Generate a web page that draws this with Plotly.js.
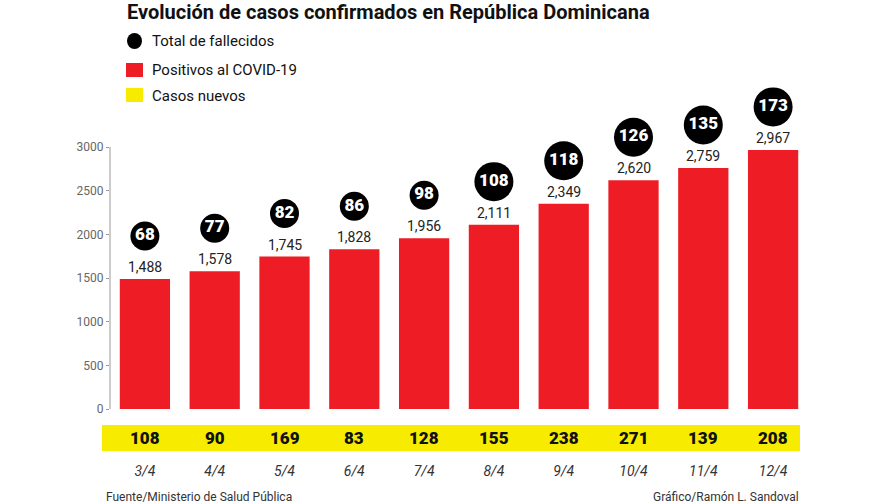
<!DOCTYPE html>
<html>
<head>
<meta charset="utf-8">
<script src="https://cdn.plot.ly/plotly-3.0.1.min.js"></script>
<style>html,body{margin:0;padding:0;background:#fff;}#chart{width:896px;height:504px;}</style>
</head>
<body>
<div id="chart"></div>
<script>
const fechas = ["3/4","4/4","5/4","6/4","7/4","8/4","9/4","10/4","11/4","12/4"];
const positivos = [1488,1578,1745,1828,1956,2111,2349,2620,2759,2967];
const fallecidos = [68,77,82,86,98,108,118,126,135,173];
const casosNuevos = [108,90,169,83,128,155,238,271,139,208];
const yTicks = [0,500,1000,1500,2000,2500,3000];

const W = 896, H = 504;
const L = 110, R = 808, B = 409;
const axisTopPx = 147;          // pixel of 3000
const axisMax = 3000;
const dataPerPx = axisMax / (B - axisTopPx);
const T = 80;                    // plot top pixel (extended so circles are inside)
const yMax = (B - T) * dataPerPx;
const px = x => (x - L) / (R - L);
const py = y => (B - y) / (B - T);

const FONT = "Roboto, 'Open Sans', sans-serif";
const red = "#ee1c24", yellow = "#f7ec00";

const bars = {
  type: "bar", x: fechas, y: positivos,
  marker: {color: red}, hoverinfo: "skip", showlegend: false
};
const circles = {
  type: "scatter", mode: "markers+text", x: fechas,
  y: positivos.map(v => v + 43 * dataPerPx),
  text: fallecidos.map(String),
  textposition: "middle center",
  textfont: {family: FONT, size: 17, color: "#ffffff", weight: 900},
  marker: {color: "#000000", opacity: 1, size: fallecidos.map(v => String(v).length > 2 ? 39 : 29), line: {width: 0}},
  cliponaxis: false, showlegend: false, hoverinfo: "skip"
};

const annotations = [];
positivos.forEach((v, i) => {
  annotations.push({x: fechas[i], y: v, xref: "x", yref: "y", yanchor: "bottom", yshift: 2,
    text: v.toLocaleString("en-US"), showarrow: false,
    font: {family: FONT, size: 14, color: "#222"}});
});
casosNuevos.forEach((v, i) => {
  annotations.push({x: fechas[i], y: py(438), xref: "x", yref: "paper", yanchor: "middle",
    text: String(v), showarrow: false,
    font: {family: FONT, size: 17, color: "#111", weight: 900}});
});
const legendItems = [
  {y: 41, text: "Total de fallecidos"},
  {y: 70, text: "Positivos al COVID-19"},
  {y: 96, text: "Casos nuevos"}
];
legendItems.forEach(it => {
  annotations.push({x: px(150), y: py(it.y), xref: "paper", yref: "paper", xanchor: "left", yanchor: "middle",
    text: it.text, showarrow: false, font: {family: FONT, size: 15, color: "#111"}});
});
annotations.push({x: px(104), y: py(497), xref: "paper", yref: "paper", xanchor: "left", yanchor: "middle",
  text: "Fuente/Ministerio de Salud Pública", showarrow: false, font: {family: FONT, size: 12, color: "#333"}});
annotations.push({x: px(801), y: py(497), xref: "paper", yref: "paper", xanchor: "right", yanchor: "middle",
  text: "Gráfico/Ramón L. Sandoval", showarrow: false, font: {family: FONT, size: 12, color: "#333"}});

const shapes = [
  {type: "line", xref: "paper", yref: "y", x0: 0, x1: 0, y0: 0, y1: axisMax,
    line: {color: "#999", width: 1}},
  {type: "rect", xref: "paper", yref: "paper", x0: px(102), x1: px(800), y0: py(451), y1: py(425),
    fillcolor: yellow, line: {width: 0}, layer: "below"},
  {type: "circle", xref: "paper", yref: "paper", x0: px(127), x1: px(142), y0: py(49), y1: py(33),
    fillcolor: "#000", line: {width: 0}},
  {type: "rect", xref: "paper", yref: "paper", x0: px(126), x1: px(143), y0: py(77), y1: py(63),
    fillcolor: red, line: {width: 0}},
  {type: "rect", xref: "paper", yref: "paper", x0: px(126), x1: px(143), y0: py(102), y1: py(88),
    fillcolor: yellow, line: {width: 0}}
];

const layout = {
  width: W, height: H,
  margin: {l: L, r: W - R, t: T, b: H - B},
  paper_bgcolor: "#fff", plot_bgcolor: "rgba(0,0,0,0)",
  bargap: 0.28,
  showlegend: false,
  title: {text: "<b>Evolución de casos confirmados en República Dominicana</b>",
    xref: "container", yref: "container", x: 127 / W, xanchor: "left", y: 1 - 12 / H, yanchor: "middle",
    font: {family: FONT, size: 20, color: "#111"}},
  xaxis: {type: "category", range: [-0.5, 9.5], showline: false, showgrid: false, zeroline: false,
    ticks: "", ticklabelstandoff: 52,
    tickfont: {family: FONT, size: 14, color: "#333", style: "italic"}, fixedrange: true},
  yaxis: {range: [0, yMax], tickvals: yTicks, ticktext: yTicks.map(String),
    showline: false, showgrid: false, zeroline: false,
    ticks: "outside", ticklen: 3, tickcolor: "#999",
    tickfont: {family: FONT, size: 12, color: "#666"}, fixedrange: true},
  annotations: annotations,
  shapes: shapes
};

Plotly.newPlot("chart", [bars, circles], layout, {displayModeBar: false, staticPlot: true});
</script>
</body>
</html>
